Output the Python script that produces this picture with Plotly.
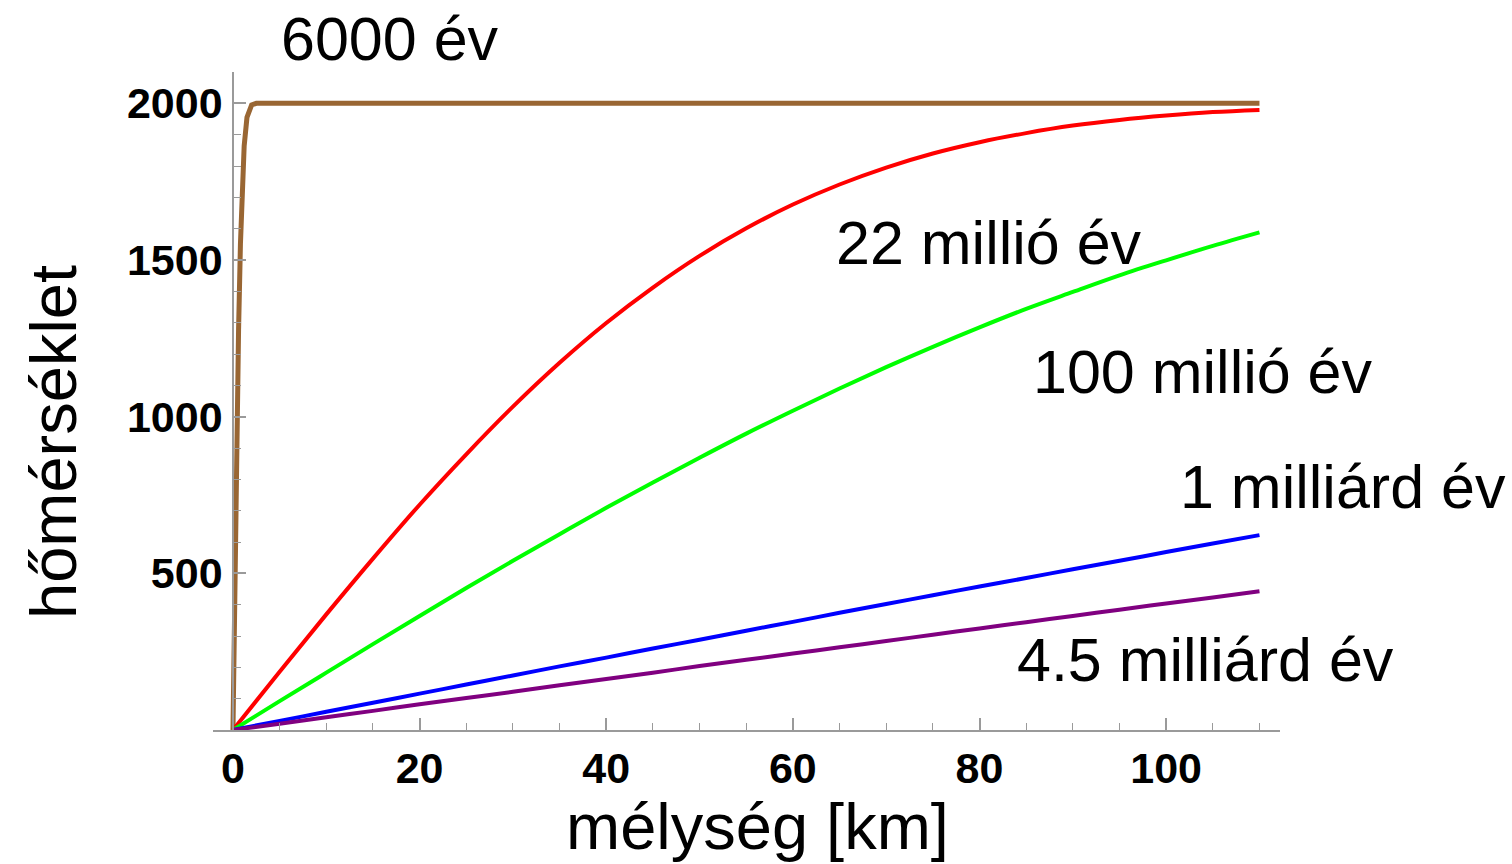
import plotly.graph_objects as go

# ---- data ----
depth_km = [0, 5, 10, 15, 20, 25, 30, 35, 40, 45, 50, 55, 60, 65, 70, 75, 80, 85, 90, 95, 100, 105, 110]

temp_22_million = [0, 186, 369, 547, 719, 880, 1032, 1172, 1299, 1412, 1513, 1601, 1677, 1741,
                   1795, 1840, 1876, 1905, 1929, 1947, 1961, 1972, 1979]
temp_100_million = [0, 92, 183, 274, 364, 453, 540, 625, 709, 790, 869, 946, 1019, 1090,
                    1158, 1223, 1285, 1344, 1398, 1451, 1499, 1545, 1588]
temp_1_billion = [0, 29, 58, 87, 116, 145, 174, 203, 231, 260, 288, 317, 345, 374,
                  402, 430, 458, 485, 513, 540, 568, 595, 622]
temp_4_5_billion = [0, 20, 41, 61, 82, 102, 122, 143, 163, 183, 204, 224, 244, 264,
                    284, 304, 324, 344, 364, 384, 404, 423, 443]

depth_6000_km = [0, 0.1, 0.2, 0.3, 0.4, 0.5, 0.6, 0.8, 1.0, 1.2, 1.5, 2.0, 2.5, 3.0, 110]
temp_6000 = [0, 242, 478, 704, 914, 1106, 1277, 1552, 1743, 1864, 1955, 1995, 2000, 2000, 2000]

curve_labels = ["6000 év", "22 millió év", "100 millió év", "1 milliárd év", "4.5 milliárd év"]
label_x = [4.9, 64.4, 85.5, 101.3, 83.8]
label_y = [2204, 1553, 1142, 775, 223]

y_tick_vals = [0, 500, 1000, 1500, 2000]
y_tick_text = ["", "500", "1000", "1500", "2000"]

x_title = "mélység [km]"
y_title = "hőmérséklet"

# ---- figure ----
FONT = "Liberation Sans, Arial, Helvetica, sans-serif"
AX = "#9a9a9a"
x_min, x_max = -2.14, 112.2
y_min, y_max = 0, 2100

fig = go.Figure()
fig.add_trace(go.Scatter(x=depth_6000_km, y=temp_6000, mode="lines",
                         line=dict(color="#996633", width=5), showlegend=False))
fig.add_trace(go.Scatter(x=depth_km, y=temp_22_million, mode="lines",
                         line=dict(color="#ff0000", width=4, shape="spline"), showlegend=False))
fig.add_trace(go.Scatter(x=depth_km, y=temp_100_million, mode="lines",
                         line=dict(color="#00ff00", width=4, shape="spline"), showlegend=False))
fig.add_trace(go.Scatter(x=depth_km, y=temp_1_billion, mode="lines",
                         line=dict(color="#0000ff", width=4, shape="spline"), showlegend=False))
fig.add_trace(go.Scatter(x=depth_km, y=temp_4_5_billion, mode="lines",
                         line=dict(color="#800080", width=4, shape="spline"), showlegend=False))

# curve labels, placed in paper coordinates derived from data positions
for txt, lx, ly in zip(curve_labels, label_x, label_y):
    fig.add_annotation(x=(lx - x_min) / (x_max - x_min), y=(ly - y_min) / (y_max - y_min),
                       xref="paper", yref="paper", text=txt, showarrow=False,
                       xanchor="left", yanchor="middle",
                       font=dict(family=FONT, size=61, color="black"))

fig.add_annotation(x=(757 - 213) / 1067, y=(730 - 826) / 658, xref="paper", yref="paper",
                   text=x_title, showarrow=False, xanchor="center", yanchor="middle",
                   font=dict(family=FONT, size=65, color="black"))
fig.add_annotation(x=(54 - 213) / 1067, y=(730 - 442) / 658, xref="paper", yref="paper",
                   text=y_title, showarrow=False, textangle=-90, xanchor="center", yanchor="middle",
                   font=dict(family=FONT, size=65, color="black"))

fig.update_layout(
    width=1512, height=864,
    margin=dict(l=213, r=232, t=72, b=134),
    plot_bgcolor="white", paper_bgcolor="white",
    xaxis=dict(range=[x_min, x_max], showgrid=False, zeroline=False,
               showline=True, linecolor=AX, linewidth=1.5,
               ticks="inside", ticklen=12, tickwidth=1.5, tickcolor=AX,
               tickmode="linear", tick0=0, dtick=20,
               tickfont=dict(family=FONT, size=43, color="black", weight="bold"),
               ticklabelstandoff=0,
               minor=dict(tickmode="linear", tick0=0, dtick=5, ticks="inside",
                          ticklen=7, tickwidth=1.2, tickcolor=AX, showgrid=False)),
    yaxis=dict(range=[y_min, y_max], showgrid=False, zeroline=False,
               anchor="free", position=(0 - x_min) / (x_max - x_min),
               showline=True, linecolor=AX, linewidth=1.5,
               ticks="inside", ticklen=12, tickwidth=1.5, tickcolor=AX,
               tickmode="array", tickvals=y_tick_vals, ticktext=y_tick_text,
               tickfont=dict(family=FONT, size=43, color="black", weight="bold"),
               ticklabelstandoff=1,
               minor=dict(tickmode="linear", tick0=0, dtick=100, ticks="inside",
                          ticklen=7, tickwidth=1.2, tickcolor=AX, showgrid=False)),
)

fig.write_html("out.html")
